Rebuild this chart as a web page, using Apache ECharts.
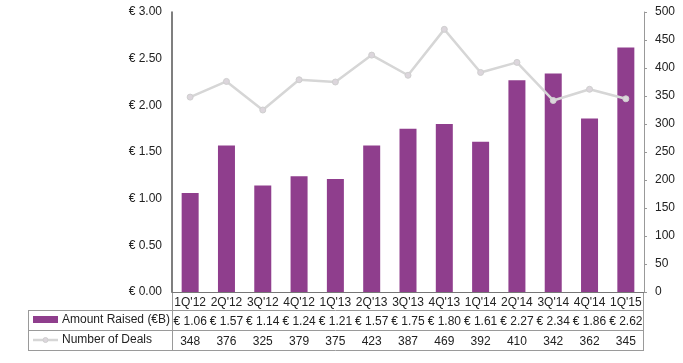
<!DOCTYPE html>
<html>
<head>
<meta charset="utf-8">
<script src="https://cdn.jsdelivr.net/npm/echarts@6/dist/echarts.min.js"></script>
<style>html,body{margin:0;padding:0;background:#fff}#c{width:683px;height:363px}</style>
</head>
<body>
<div id="c"></div>
<script>
var categories = ["1Q'12","2Q'12","3Q'12","4Q'12","1Q'13","2Q'13","3Q'13","4Q'13","1Q'14","2Q'14","3Q'14","4Q'14","1Q'15"];
var amountRaised = [1.06,1.57,1.14,1.24,1.21,1.57,1.75,1.80,1.61,2.27,2.34,1.86,2.62];
var numberOfDeals = [348,376,325,379,375,423,387,469,392,410,342,362,345];
var leftTicks = [0, 3, 0.5];
var rightTicks = [0, 500, 50];

var FONT = 'Liberation Sans, Arial, sans-serif';
var PURPLE = '#8f3e8d';
var GRAY = '#d6d6d6';
var BORDER = '#9a9a9a';

var chart = echarts.init(document.getElementById('c'), null, {renderer: 'canvas'});
var hiddenAxis = {axisLine:{show:false}, axisTick:{show:false}, splitLine:{show:false}};
chart.setOption({
  animation: false,
  backgroundColor: '#fff',
  grid: {left: 172, right: 39, top: 12, bottom: 71, containLabel: false},
  xAxis: [
    {type:'category', data: categories, position:'bottom',
     axisLine:{show:true, lineStyle:{color:'#777', width:1}}, axisTick:{show:false},
     axisLabel:{color:'#222', fontSize:12, fontFamily:FONT, margin:5, interval:0}},
    Object.assign({type:'category', data: amountRaised.map(function(v){return '€ ' + v.toFixed(2);}), position:'bottom', offset:20,
     axisLabel:{color:'#222', fontSize:12, fontFamily:FONT, margin:4, interval:0}}, hiddenAxis),
    Object.assign({type:'category', data: numberOfDeals.map(String), position:'bottom', offset:40,
     axisLabel:{color:'#222', fontSize:12, fontFamily:FONT, margin:4, interval:0}}, hiddenAxis)
  ],
  yAxis: [
    {type:'value', min:leftTicks[0], max:leftTicks[1], interval:leftTicks[2], position:'left',
     axisLine:{show:true, lineStyle:{color:'#555', width:1.5}}, axisTick:{show:false}, splitLine:{show:false},
     axisLabel:{color:'#222', fontSize:12, fontFamily:FONT, margin:10, formatter:function(v){return '€ ' + v.toFixed(2);}}},
    {type:'value', min:rightTicks[0], max:rightTicks[1], interval:rightTicks[2], position:'right',
     axisLine:{show:true, lineStyle:{color:'#999', width:1}}, axisTick:{show:true, inside:false, length:3, lineStyle:{color:'#999'}}, splitLine:{show:false},
     axisLabel:{color:'#222', fontSize:12, fontFamily:FONT, margin:11}}
  ],
  series: [
    {type:'bar', name:'Amount Raised (€B)', data: amountRaised, xAxisIndex:0, yAxisIndex:0, barWidth:17,
     itemStyle:{color:PURPLE}},
    {type:'line', name:'Number of Deals', data: numberOfDeals, xAxisIndex:0, yAxisIndex:1,
     lineStyle:{color:GRAY, width:2.5}, symbol:'circle', symbolSize:6,
     itemStyle:{color:'#dcd6dc', borderColor:'#cfcfcf', borderWidth:1}}
  ],
  graphic: [
    {type:'line', shape:{x1:28,y1:310.5,x2:643,y2:310.5}, style:{stroke:BORDER, lineWidth:1}},
    {type:'line', shape:{x1:28,y1:330.5,x2:643,y2:330.5}, style:{stroke:BORDER, lineWidth:1}},
    {type:'line', shape:{x1:28,y1:350.5,x2:643,y2:350.5}, style:{stroke:BORDER, lineWidth:1}},
    {type:'line', shape:{x1:28.5,y1:310,x2:28.5,y2:351}, style:{stroke:BORDER, lineWidth:1}},
    {type:'line', shape:{x1:172.5,y1:292,x2:172.5,y2:351}, style:{stroke:BORDER, lineWidth:1}},
    {type:'line', shape:{x1:643.5,y1:292,x2:643.5,y2:351}, style:{stroke:BORDER, lineWidth:1}},
    {type:'rect', shape:{x:33,y:316,width:25,height:7}, style:{fill:PURPLE}},
    {type:'text', left:62, top:314, style:{text:'Amount Raised (€B)', fill:'#222', font:'12px ' + FONT}},
    {type:'line', shape:{x1:33,y1:340,x2:58,y2:340}, style:{stroke:GRAY, lineWidth:2.5}},
    {type:'circle', shape:{cx:45.5,cy:340,r:2.5}, style:{fill:'#dcd6dc', stroke:'#cfcfcf'}},
    {type:'text', left:62, top:334, style:{text:'Number of Deals', fill:'#222', font:'12px ' + FONT}}
  ]
});
</script>
</body>
</html>
